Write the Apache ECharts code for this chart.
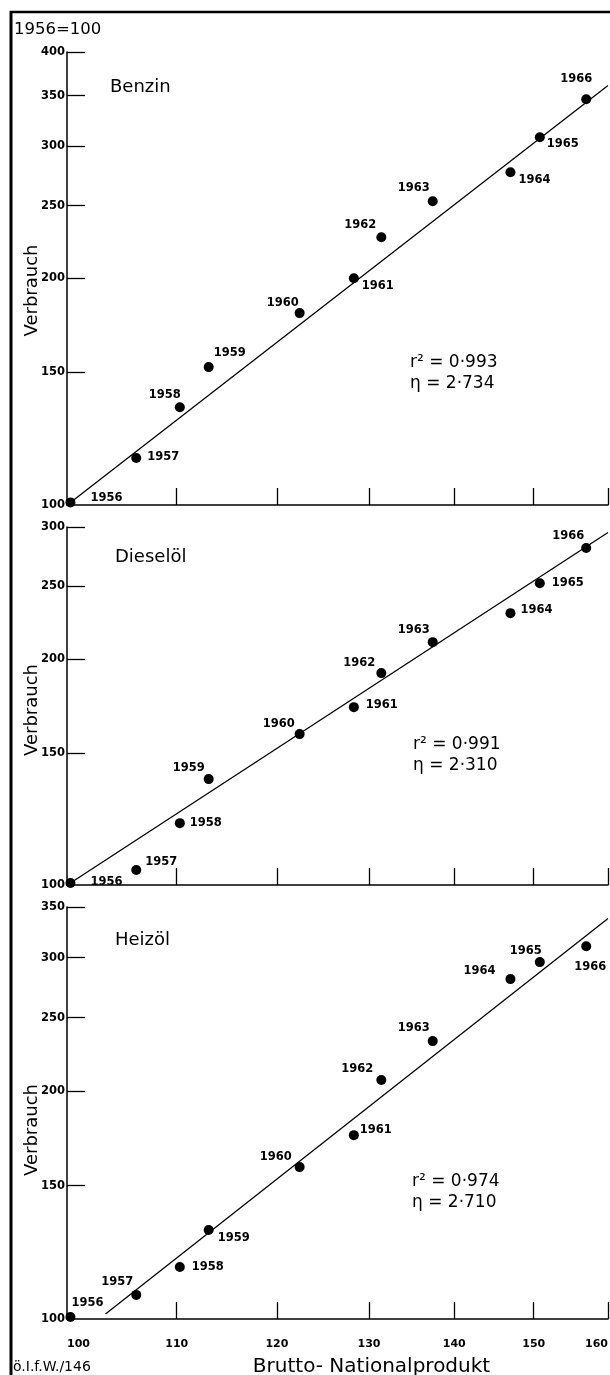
<!DOCTYPE html>
<html><head><meta charset="utf-8">
<script src="https://cdn.jsdelivr.net/npm/echarts@6/dist/echarts.min.js"></script>
<style>html,body{margin:0;padding:0;background:#fff}#c{width:610px;height:1375px}</style>
</head><body><div id="c"></div><script>
// ---- data ----
const years = ['1956','1957','1958','1959','1960','1961','1962','1963','1964','1965','1966'];
const gnp = [100.3,106.2,110.3,113.1,122.4,128.3,131.4,137.4,147.0,150.8,157.0];
const benzin = [100.8,115.5,134.9,152.5,179.9,200.2,226.9,253.4,276.8,308.2,346.1];
const dieseloel = [100.6,104.7,120.9,138.4,158.9,172.6,191.6,210.7,230.3,252.5,281.2];
const heizoel = [100.6,107.6,117.1,131.1,158.7,174.9,206.8,232.8,281.1,296.0,310.7];
const benzinFit = [[100.3,100.8],[160,361]];
const dieselFit = [[100.3,100.6],[160,295]];
const heizFit = [[103.4,101.5],[160,338]];
const xTickValues = [110,120,130,140,150,160];
const xLabelValues = [100,110,120,130,140,150,160];
const yValuesBenzin = [100,150,200,250,300,350,400];
const yValuesDiesel = [100,150,200,250,300];
const yValuesHeiz = [100,150,200,250,300,350];
const statsBenzin = ['r² = 0·993','η = 2·734'];
const statsDiesel = ['r² = 0·991','η = 2·310'];
const statsHeiz = ['r² = 0·974','η = 2·710'];

// ---- layout (label offsets, px) ----
const offBenzin = [[36,-4],[27,-1],[-15,-12],[21,-14],[-17,-10],[24,8],[-21,-12],[-19,-13],[24,8],[23,7],[-10,-20]];
const offDiesel = [[36,-1],[25,-8],[26,0],[-20,-11],[-21,-10],[28,-2],[-22,-10],[-19,-12],[26,-3],[28,0],[-18,-12]];
const offHeiz = [[17,-14],[-19,-13],[28,0],[25,8],[-24,-10],[22,-5],[-24,-11],[-19,-13],[-31,-8],[-14,-11],[4,21]];

const FONT = 'DejaVu Sans';
const grids = [
  {left:67, right:2, top:52, height:453},
  {left:67, right:2, top:527, height:358},
  {left:67, right:2, top:907, height:412}
];
grids.forEach(g => { g.containLabel = false; g.outerBoundsMode = 'none'; });

function xAxis(i, last){
  return {
    type:'log', gridIndex:i, min:100, max:160, logBase:10,
    axisLine:{show:true, lineStyle:{color:'#000', width:1.5}},
    axisTick:{show:true, inside:true, length:17, lineStyle:{color:'#000', width:1.3}, customValues:xTickValues},
    axisLabel:{show:last, customValues:xLabelValues, color:'#000', fontFamily:FONT, fontWeight:'bold', fontSize:11, margin:20, alignMinLabel:'left', alignMaxLabel:'right'},
    splitLine:{show:false},
    name: last ? 'Brutto- Nationalprodukt' : '',
    nameLocation:'middle', nameGap:38, nameMoveOverlap:false,
    nameTextStyle:{color:'#000', fontFamily:FONT, fontSize:20, padding:[0,0,0,68]}
  };
}
function yAxis(i, max, vals, pad){
  return {
    type:'log', gridIndex:i, min:100, max:max, logBase:10,
    axisLine:{show:true, lineStyle:{color:'#000', width:1.5}},
    axisTick:{show:true, inside:true, length:18, lineStyle:{color:'#000', width:1.3}, customValues:vals.slice(1)},
    axisLabel:{customValues:vals, color:'#000', fontFamily:FONT, fontWeight:'bold', fontSize:11.5, margin:2},
    splitLine:{show:false},
    name:'Verbrauch', nameLocation:'middle', nameGap:26, nameRotate:90, nameMoveOverlap:false,
    nameTextStyle:{color:'#000', fontFamily:FONT, fontSize:18, padding:[0,pad,0,0]}
  };
}
function scatter(i, vals, offs){
  return {
    type:'scatter', xAxisIndex:i, yAxisIndex:i, clip:false, z:3,
    symbol:'circle', symbolSize:10, itemStyle:{color:'#000', opacity:1},
    data: vals.map((v,k)=>({value:[gnp[k], v], name:years[k],
      label:{offset:offs[k]}})),
    label:{show:true, position:'inside', formatter:p=>p.name, color:'#000', opacity:1,
      fontFamily:FONT, fontWeight:'bold', fontSize:11.5, align:'center', verticalAlign:'middle'},
    emphasis:{disabled:true},
    silent:true
  };
}
function fit(i, d){
  return {type:'line', xAxisIndex:i, yAxisIndex:i, data:d, showSymbol:false, symbol:'none', clip:false, z:2,
    lineStyle:{color:'#000', width:1.3, opacity:1}, silent:true};
}
function txt(x, y, t, size, extra){
  return Object.assign({type:'text', x:x, y:y, silent:true,
    style:{text:t, fill:'#000', fontFamily:FONT, fontSize:size, align:'left', verticalAlign:'middle'}}, extra||{});
}
function statTexts(x, y1, y2, s){
  return [txt(x, y1, s[0], 17), txt(x, y2, s[1], 17)];
}

const chart = echarts.init(document.getElementById('c'), null, {renderer:'canvas'});
chart.setOption({
  backgroundColor:'#fff',
  animation:false,
  grid: grids,
  xAxis:[xAxis(0,false), xAxis(1,false), xAxis(2,true)],
  yAxis:[yAxis(0,400,yValuesBenzin,24), yAxis(1,300,yValuesDiesel,8), yAxis(2,350,yValuesHeiz,34)],
  series:[
    fit(0, benzinFit), scatter(0, benzin, offBenzin),
    fit(1, dieselFit), scatter(1, dieseloel, offDiesel),
    fit(2, heizFit), scatter(2, heizoel, offHeiz)
  ],
  graphic:[
    {type:'line', silent:true, shape:{x1:11, y1:11, x2:11, y2:1375}, style:{stroke:'#000', lineWidth:3}},
    {type:'line', silent:true, shape:{x1:10, y1:12, x2:610, y2:12}, style:{stroke:'#000', lineWidth:2.5}},
    txt(14, 30, '1956=100', 16.5),
    txt(110, 87, 'Benzin', 18),
    txt(115, 557, 'Dieselöl', 18),
    txt(115, 940, 'Heizöl', 18),
    ...statTexts(410, 363, 384, statsBenzin),
    ...statTexts(413, 745, 766, statsDiesel),
    ...statTexts(412, 1182, 1203, statsHeiz),
    txt(13, 1367, 'ö.I.f.W./146', 14)
  ]
});
</script></body></html>
